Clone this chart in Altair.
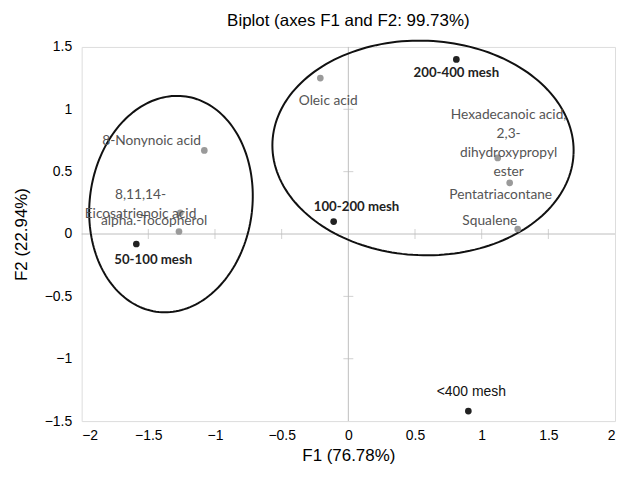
import altair as alt
import pandas as pd
import numpy as np

# ---- data ----
names = ["200-400 mesh", "100-200 mesh", "50-100 mesh", "<400 mesh",
         "Oleic acid", "8-Nonynoic acid", "8,11,14-Eicosatrienoic acid",
         "alpha.-Tocopherol", "Hexadecanoic acid, 2,3-dihydroxypropyl ester",
         "Pentatriacontane", "Squalene"]
f1 = [0.81, -0.11, -1.59, 0.90, -0.21, -1.08, -1.26, -1.27, 1.12, 1.21, 1.27]
f2 = [1.40, 0.10, -0.08, -1.42, 1.25, 0.67, 0.17, 0.02, 0.61, 0.41, 0.04]
kind = ["obs", "obs", "obs", "obs", "var", "var", "var", "var", "var", "var", "var"]
display = ["200-400 mesh", "100-200 mesh", "50-100 mesh", "<400 mesh",
           "Oleic acid", "8-Nonynoic acid", "8,11,14-\nEicosatrienoic acid",
           "alpha.-Tocopherol", "Hexadecanoic acid,\n2,3-\ndihydroxypropyl\nester",
           "Pentatriacontane", "Squalene"]

x_ticks = [-2, -1.5, -1, -0.5, 0, 0.5, 1, 1.5, 2]
y_ticks = [-1.5, -1, -0.5, 0, 0.5, 1, 1.5]

# confidence ellipses (centre, semi-axes, tilt in degrees)
ell_id = ["left", "right"]
ell_cx = [-1.33, 0.56]
ell_cy = [0.24, 0.69]
ell_rx = [0.61, 1.13]
ell_ry = [0.87, 0.86]
ell_tilt = [-6, -2.5]

df = pd.DataFrame({"name": names, "F1": f1, "F2": f2, "kind": kind, "label": display})

rows = []
t = np.linspace(0, 2 * np.pi, 181)
for i, e in enumerate(ell_id):
    th = np.deg2rad(ell_tilt[i])
    xs = ell_cx[i] + ell_rx[i] * np.cos(t) * np.cos(th) - ell_ry[i] * np.sin(t) * np.sin(th)
    ys = ell_cy[i] + ell_rx[i] * np.cos(t) * np.sin(th) + ell_ry[i] * np.sin(t) * np.cos(th)
    for k, (a, b) in enumerate(zip(xs, ys)):
        rows.append({"id": e, "k": k, "F1": a, "F2": b})
ell_df = pd.DataFrame(rows)

xscale = alt.Scale(domain=[-2, 2], nice=False, zero=False)
yscale = alt.Scale(domain=[-1.5, 1.5], nice=False, zero=False)
AX = "Liberation Sans"

xaxis = alt.Axis(values=x_ticks, format="~g", grid=False, domain=False, tickSize=0,
                 labelFont=AX, labelFontSize=14, labelColor="#000", labelPadding=7,
                 title="F1 (76.78%)", titleFont=AX, titleFontSize=17, titleFontWeight="normal",
                 titleColor="#000", titleX=268, titleY=35, titleBaseline="middle", titleAlign="center")
yaxis = alt.Axis(values=y_ticks, format="~g", grid=False, domain=False, tickSize=0,
                 labelFont=AX, labelFontSize=14, labelColor="#000", labelPadding=10,
                 title="F2 (22.94%)", titleFont=AX, titleFontSize=17, titleFontWeight="normal",
                 titleColor="#000", titleX=-60, titleY=188, titleAngle=-90,
                 titleBaseline="middle", titleAlign="center")

base = alt.Chart(df)

points = base.mark_circle(size=45, opacity=1).encode(
    x=alt.X("F1:Q", scale=xscale, axis=xaxis),
    y=alt.Y("F2:Q", scale=yscale, axis=yaxis),
    color=alt.Color("kind:N", scale=alt.Scale(domain=["obs", "var"], range=["#222222", "#9a9a9a"]),
                    legend=None),
)

one = pd.DataFrame({"v": [0]})
hzero = alt.Chart(one).mark_rule(color="#bdbdbd", strokeWidth=1).encode(y=alt.datum(0, scale=yscale))
vzero = alt.Chart(one).mark_rule(color="#bdbdbd", strokeWidth=1).encode(x=alt.datum(0, scale=xscale))

xt_df = pd.DataFrame({"t": [v for v in x_ticks if v not in (-2, 0, 2)]})
yt_df = pd.DataFrame({"t": [v for v in y_ticks if v not in (-1.5, 0, 1.5)]})
xtick_marks = alt.Chart(xt_df).mark_tick(orient="vertical", size=10, thickness=1, color="#bdbdbd").encode(
    x=alt.X("t:Q", scale=xscale), y=alt.datum(0, scale=yscale))
ytick_marks = alt.Chart(yt_df).mark_tick(orient="horizontal", size=10, thickness=1, color="#bdbdbd").encode(
    y=alt.Y("t:Q", scale=yscale), x=alt.datum(0, scale=xscale))

ellipses = alt.Chart(ell_df).mark_line(color="#111111", strokeWidth=2).encode(
    x=alt.X("F1:Q", scale=xscale), y=alt.Y("F2:Q", scale=yscale),
    detail="id:N", order="k:Q")


def label(name, dx, dy, font="Lato", size=13.8, weight="normal", color="#555555"):
    return base.transform_filter(alt.datum.name == name).mark_text(
        dx=dx, dy=dy, font=font, fontSize=size, fontWeight=weight, color=color,
        align="center", baseline="middle", lineBreak="\n", lineHeight=19
    ).encode(x=alt.X("F1:Q", scale=xscale), y=alt.Y("F2:Q", scale=yscale), text="label:N")


labels = [
    label("200-400 mesh", 0, 14, size=13.3, weight="bold", color="#222222"),
    label("100-200 mesh", 23, -15, size=13.3, weight="bold", color="#222222"),
    label("50-100 mesh", 17, 16, size=13.3, weight="bold", color="#222222"),
    label("<400 mesh", 3, -19, font=AX, size=14, color="#111111"),
    label("Oleic acid", 8, 23),
    label("8-Nonynoic acid", -53, -9),
    label("8,11,14-Eicosatrienoic acid", -40, -18),
    label("alpha.-Tocopherol", -25, -11),
    label("Hexadecanoic acid, 2,3-dihydroxypropyl ester", 11, -43),
    label("Pentatriacontane", -9, 12),
    label("Squalene", -28, -8),
]

chart = alt.layer(hzero, vzero, xtick_marks, ytick_marks, ellipses, points, *labels).properties(
    width=536, height=376,
    title=alt.Title("Biplot (axes F1 and F2: 99.73%)", font=AX, fontSize=17,
                    fontWeight="normal", color="#000", offset=7, anchor="middle"),
    autosize=alt.AutoSizeParams(type="none"),
    padding={"left": 74, "top": 38, "right": 5, "bottom": 42},
).configure_view(stroke="#aaaaaa", strokeWidth=2).configure(background="white")

chart.save("out.html", embed_options={"renderer": "svg", "actions": False})
